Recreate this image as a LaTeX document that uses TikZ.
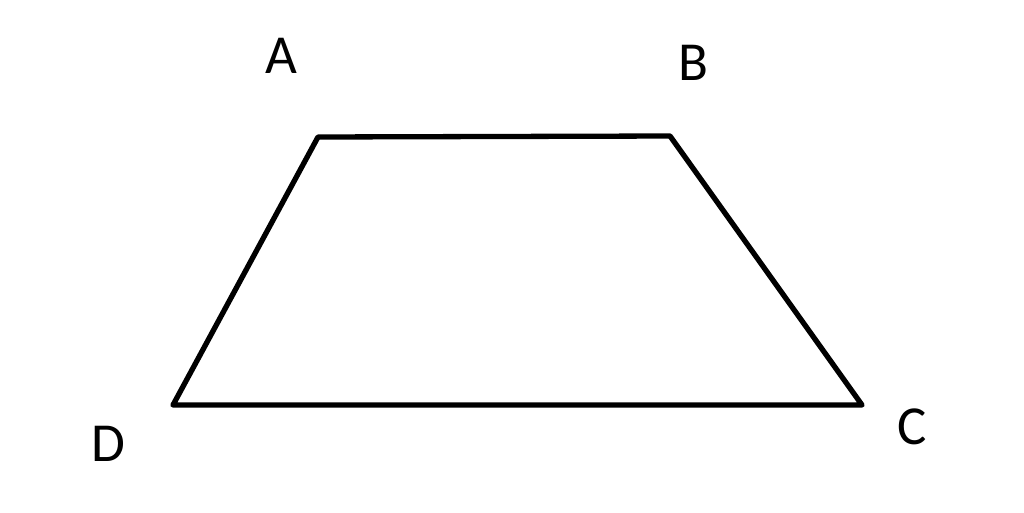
\documentclass[tikz,border=0pt]{standalone}
\usepackage{fontspec}
\setmainfont{Carlito}
\begin{document}
\begin{tikzpicture}[x=1pt,y=-1pt,
  edge/.style={line width=5.3pt,line join=round,line cap=round},
  lbl/.style={font=\fontsize{55}{60}\selectfont,inner sep=0pt}]
\useasboundingbox (0,0) rectangle (1024,512);
\fill[white] (0,0) rectangle (1024,512);
\coordinate (A) at (318,137);
\coordinate (B) at (670,136);
\coordinate (C) at (862,405);
\coordinate (D) at (173,405);
\draw[edge] (A) -- (B) -- (C) -- (D) -- cycle;
\node[lbl] (la) at (281,56) {A};
\node[lbl] (lb) at (693,63) {B};
\node[lbl] (lc) at (912,427) {C};
\node[lbl] (ld) at (108,444) {D};
\end{tikzpicture}
\end{document}
